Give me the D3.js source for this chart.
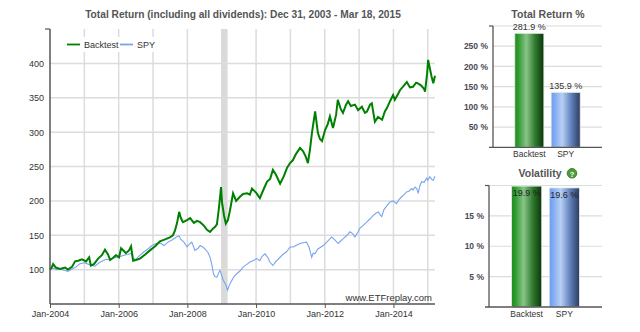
<!DOCTYPE html>
<html><head><meta charset="utf-8">
<script src="https://cdn.jsdelivr.net/npm/d3@7"></script>
<style>
body{margin:0;background:#fff;}
svg{display:block;font-family:Arial,"Liberation Sans",sans-serif;}
</style></head>
<body><svg id="c" width="640" height="332"></svg>
<script>
// ---------- data ----------
const mainTitle = "Total Return (including all dividends): Dec 31, 2003 - Mar 18, 2015";
const seriesNames = ["Backtest", "SPY"];
const yTicks = [100, 150, 200, 250, 300, 350, 400];
const xTickYears = [2004, 2006, 2008, 2010, 2012, 2014];
const gridYears = [2005, 2006, 2007, 2008, 2009, 2010, 2011, 2012, 2013, 2014, 2015];
const shadeYears = [2008.98, 2009.17];

const backtestYears = [2004.00,2004.06,2004.09,2004.17,2004.29,2004.44,2004.52,2004.64,2004.73,2004.82,2004.93,2005.05,2005.14,2005.19,2005.28,2005.40,2005.51,2005.60,2005.69,2005.75,2005.83,2005.92,2006.01,2006.07,2006.15,2006.21,2006.30,2006.36,2006.42,2006.50,2006.62,2006.77,2006.91,2007.06,2007.20,2007.35,2007.49,2007.58,2007.64,2007.70,2007.76,2007.81,2007.87,2007.99,2008.08,2008.19,2008.28,2008.37,2008.48,2008.57,2008.66,2008.75,2008.80,2008.86,2008.92,2008.98,2009.01,2009.07,2009.12,2009.18,2009.24,2009.33,2009.42,2009.53,2009.62,2009.74,2009.82,2009.88,2010.00,2010.11,2010.23,2010.32,2010.41,2010.49,2010.58,2010.70,2010.81,2010.90,2010.99,2011.07,2011.16,2011.28,2011.37,2011.45,2011.51,2011.57,2011.63,2011.72,2011.80,2011.86,2011.92,2012.01,2012.09,2012.15,2012.24,2012.33,2012.38,2012.47,2012.53,2012.62,2012.68,2012.76,2012.88,2012.97,2013.08,2013.17,2013.23,2013.32,2013.37,2013.46,2013.55,2013.67,2013.75,2013.81,2013.90,2013.99,2014.04,2014.13,2014.19,2014.31,2014.39,2014.48,2014.57,2014.66,2014.71,2014.80,2014.89,2014.92,2014.98,2015.01,2015.05,2015.11,2015.16,2015.21];
const backtestValues = [100,104,108,103,101,103,100,104,112,113,115,112,118,106,108,116,121,129,122,114,117,121,118,131,127,124,128,134,113,114,116,122,128,134,141,144,147,150,157,168,184,175,169,172,175,168,171,169,164,158,155,160,162,166,190,220,197,178,167,172,186,211,200,206,210,211,209,218,212,204,218,228,232,245,238,225,236,248,255,259,268,277,272,264,255,275,300,330,299,290,287,303,312,323,306,325,347,333,328,340,345,338,340,332,337,328,330,340,342,315,322,318,330,335,345,354,347,355,361,368,373,365,366,372,371,368,363,359,385,405,395,381,371,381.9];

const spyYears = [2004.00,2004.09,2004.20,2004.29,2004.41,2004.52,2004.64,2004.76,2004.87,2004.99,2005.11,2005.22,2005.31,2005.43,2005.54,2005.63,2005.75,2005.83,2005.95,2006.04,2006.15,2006.27,2006.36,2006.42,2006.50,2006.62,2006.74,2006.85,2006.97,2007.09,2007.20,2007.32,2007.44,2007.55,2007.64,2007.70,2007.76,2007.81,2007.90,2007.99,2008.08,2008.13,2008.22,2008.31,2008.37,2008.45,2008.51,2008.60,2008.66,2008.72,2008.76,2008.80,2008.86,2008.92,2008.95,2009.01,2009.05,2009.12,2009.17,2009.21,2009.29,2009.36,2009.44,2009.53,2009.63,2009.74,2009.82,2009.91,2010.02,2010.11,2010.17,2010.26,2010.35,2010.40,2010.49,2010.58,2010.70,2010.78,2010.89,2010.99,2011.08,2011.16,2011.28,2011.37,2011.47,2011.54,2011.62,2011.66,2011.71,2011.80,2011.89,2011.96,2012.06,2012.20,2012.30,2012.39,2012.47,2012.54,2012.65,2012.73,2012.82,2012.88,2012.97,2013.02,2013.11,2013.22,2013.32,2013.41,2013.49,2013.56,2013.61,2013.66,2013.72,2013.81,2013.90,2013.99,2014.09,2014.16,2014.24,2014.31,2014.38,2014.45,2014.53,2014.57,2014.63,2014.68,2014.72,2014.77,2014.82,2014.89,2014.97,2015.00,2015.06,2015.12,2015.16,2015.21];
const spyValues = [100,102,100,101,99,97.5,101,104,108.7,110,108,106,105,110,113,115,114,117,118,119,121,122,124,116,115,121,126,130,135,138,139,135,140,143,146,148,149,144,140,133,138,140,128,131,135,133,130,125,118,105,94,90,89,96,99,90,84,78,70,76,84,90,94,98,104,108,111,113,116,113,119,123,117,111,106,112,118,122,126,133,133,135,138,139,140,133,118,124,123,130,133,135,140,147.5,143,138,142,145,150,155,152,147.5,155,160,164,169,174,179,182,184,180,177,187,193,198.5,200,196,202,206,209,213,214,218,216,220,218,211,222,228,227,233,230,235,231,230,235.9];

const barCategories = ["Backtest", "SPY"];
const totalReturn = [281.9, 135.9];
const trTicks = [50, 100, 150, 200, 250];
const volatility = [19.9, 19.6];
const volTicks = [5, 10, 15];

// ---------- drawing ----------
const svg = d3.select("#c");
const txt = "#333";
const gridC = "#dcdcdc";
const axisC = "#555";

const defs = svg.append("defs");
function grad(id, stops) {
  const g = defs.append("linearGradient").attr("id", id).attr("x1", "0%").attr("x2", "100%").attr("y1", "0%").attr("y2", "0%");
  stops.forEach(s => g.append("stop").attr("offset", s[0]).attr("stop-color", s[1]));
}
grad("gGreen", [["0%", "#1e8c1e"], ["12%", "#2f9a2f"], ["40%", "#88c488"], ["70%", "#2f7a2f"], ["100%", "#0b350b"]]);
grad("gBlue", [["0%", "#6c9cf0"], ["12%", "#80abf2"], ["38%", "#b8cff5"], ["70%", "#5f7fb8"], ["100%", "#2c3c60"]]);
const barFill = ["url(#gGreen)", "url(#gBlue)"];

// ---- main line chart ----
const x = d3.scaleLinear().domain([2004, 2015.21]).range([50, 435]);
const y = d3.scaleLinear().domain([50, 450]).range([304, 29]);

svg.append("text").attr("x", 243).attr("y", 17.5).attr("text-anchor", "middle")
  .attr("font-size", 10.2).attr("font-weight", "bold").attr("fill", "#555").text(mainTitle);

const main = svg.append("g");
main.append("rect").attr("x", x(shadeYears[0])).attr("width", x(shadeYears[1]) - x(shadeYears[0]))
  .attr("y", y(450)).attr("height", y(50) - y(450)).attr("fill", "#dadada");
main.selectAll(".hg").data(yTicks).join("line")
  .attr("x1", 50).attr("x2", 435).attr("y1", d => y(d)).attr("y2", d => y(d))
  .attr("stroke", gridC).attr("stroke-width", 1.5);
main.selectAll(".vg").data(gridYears).join("line")
  .attr("x1", d => x(d)).attr("x2", d => x(d)).attr("y1", y(450)).attr("y2", y(50))
  .attr("stroke", gridC).attr("stroke-width", 1.5);

const line = d3.line().x(d => x(d[0])).y(d => y(d[1]));
main.append("path").datum(spyYears.map((t, i) => [t, spyValues[i]]))
  .attr("d", line).attr("fill", "none").attr("stroke", "#78a4f0").attr("stroke-width", 1.1);
main.append("path").datum(backtestYears.map((t, i) => [t, backtestValues[i]]))
  .attr("d", line).attr("fill", "none").attr("stroke", "#008000").attr("stroke-width", 2);

const yAx = main.append("g").attr("transform", "translate(50,0)")
  .call(d3.axisLeft(y).tickValues(yTicks).tickSize(0).tickPadding(6));
yAx.select(".domain").remove();
yAx.selectAll("text").attr("font-size", 9).attr("fill", txt).attr("font-family", "Arial, Liberation Sans, sans-serif");
main.append("line").attr("x1", 50).attr("x2", 50).attr("y1", y(450)).attr("y2", y(50)).attr("stroke", axisC).attr("stroke-width", 1.5);
main.append("line").attr("x1", 45).attr("x2", 50).attr("y1", y(450)).attr("y2", y(450)).attr("stroke", axisC).attr("stroke-width", 1.2);

const xAx = main.append("g").attr("transform", `translate(0,${y(50)})`)
  .call(d3.axisBottom(x).tickValues(xTickYears).tickSize(4).tickFormat(d => "Jan-" + d));
xAx.select(".domain").remove();
xAx.selectAll("line").attr("stroke", axisC);
xAx.selectAll("text").attr("font-size", 9).attr("fill", txt).attr("font-family", "Arial, Liberation Sans, sans-serif");
main.append("line").attr("x1", 50).attr("x2", 435).attr("y1", y(50)).attr("y2", y(50)).attr("stroke", axisC).attr("stroke-width", 1.5);

const lg = main.append("g");
lg.append("rect").attr("x", 58).attr("y", 37).attr("width", 98).attr("height", 15).attr("fill", "#fff");
const lgColors = ["#008000", "#78a4f0"];
const lgX = [67, 120];
seriesNames.forEach((n, i) => {
  lg.append("line").attr("x1", lgX[i]).attr("x2", lgX[i] + 13).attr("y1", 44.5).attr("y2", 44.5)
    .attr("stroke", lgColors[i]).attr("stroke-width", 1.8);
  lg.append("text").attr("x", lgX[i] + 17).attr("y", 47.5).attr("font-size", 9).attr("fill", txt).text(n);
});

svg.append("text").attr("x", 432).attr("y", 300.5).attr("text-anchor", "end")
  .attr("font-size", 9.5).attr("fill", txt).text("www.ETFreplay.com");

// ---- bar charts ----
function barChart(opts) {
  const g = svg.append("g");
  const bx = d3.scaleBand().domain(barCategories).range([opts.left, opts.right]).paddingInner(0.2).paddingOuter(0.6);
  const by = d3.scaleLinear().domain([0, opts.max]).range([opts.bottom, opts.top]);
  g.append("text").attr("x", opts.titleX).attr("y", opts.titleY).attr("text-anchor", "middle")
    .attr("font-size", 10.5).attr("font-weight", "bold").attr("fill", "#555").text(opts.title);
  g.selectAll(".gl").data(opts.ticks.concat([opts.max])).join("line")
    .attr("x1", opts.left).attr("x2", 602).attr("y1", d => by(d)).attr("y2", d => by(d))
    .attr("stroke", gridC).attr("stroke-width", 1.2);
  const ax = g.append("g").attr("transform", `translate(${opts.left},0)`)
    .call(d3.axisLeft(by).tickValues(opts.ticks).tickSize(0).tickPadding(5).tickFormat(d => d + " %"));
  ax.select(".domain").remove();
  ax.selectAll("text").attr("font-size", 8.5).attr("font-weight", "bold").attr("fill", "#4a4a58").attr("font-family", "Arial, Liberation Sans, sans-serif");
  g.selectAll(".bar").data(opts.values).join("rect")
    .attr("x", (d, i) => bx(barCategories[i])).attr("width", bx.bandwidth())
    .attr("y", d => by(d)).attr("height", d => by(0) - by(d))
    .attr("fill", (d, i) => barFill[i]).attr("stroke", "#e6ece6").attr("stroke-width", 0.8);
  g.selectAll(".bl").data(opts.values).join("text")
    .attr("x", (d, i) => bx(barCategories[i]) + bx.bandwidth() / 2)
    .attr("y", d => opts.inside ? by(d) + 10 : by(d) - 3)
    .attr("text-anchor", "middle").attr("font-size", 9).attr("fill", opts.inside ? "#222" : txt)
    .text(d => d.toFixed(1) + " %");
  g.append("line").attr("x1", opts.left).attr("x2", opts.left).attr("y1", opts.top).attr("y2", opts.bottom).attr("stroke", axisC).attr("stroke-width", 1.3);
  g.append("line").attr("x1", opts.left - 4).attr("x2", opts.left).attr("y1", opts.top).attr("y2", opts.top).attr("stroke", axisC).attr("stroke-width", 1.2);
  g.append("line").attr("x1", opts.left - 4).attr("x2", 602).attr("y1", opts.bottom).attr("y2", opts.bottom).attr("stroke", axisC).attr("stroke-width", 1.3);
  g.selectAll(".cl").data(barCategories).join("text")
    .attr("x", d => bx(d) + bx.bandwidth() / 2).attr("y", opts.bottom + 9.5)
    .attr("text-anchor", "middle").attr("font-size", 8.5).attr("fill", txt).text(d => d);
  return g;
}

barChart({ title: "Total Return %", titleX: 548, titleY: 17.5, left: 493, right: 602, top: 26, bottom: 147.3,
  max: 300, ticks: trTicks, values: totalReturn, inside: false });
const vg = barChart({ title: "Volatility", titleX: 540, titleY: 177, left: 489, right: 602, top: 185.5, bottom: 307,
  max: 20, ticks: volTicks, values: volatility, inside: true });
vg.append("circle").attr("cx", 572).attr("cy", 173.3).attr("r", 4.8).attr("fill", "#4f9a3a").attr("stroke", "#2f6f22").attr("stroke-width", 0.8);
vg.append("text").attr("x", 572).attr("y", 176.5).attr("text-anchor", "middle").attr("font-size", 7.5).attr("font-weight", "bold").attr("fill", "#fff").text("?");
</script></body></html>
